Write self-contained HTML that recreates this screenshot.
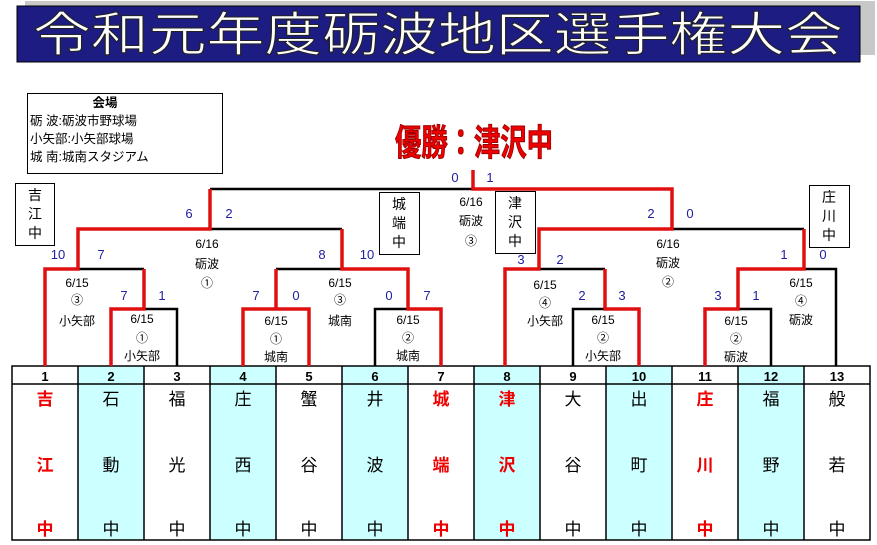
<!DOCTYPE html>
<html><head><meta charset="utf-8"><style>
body{margin:0;background:#fff;width:877px;height:545px;overflow:hidden}
svg{display:block}
text{font-family:"Liberation Sans","Noto Sans CJK JP",sans-serif}
</style></head><body>
<svg width="877" height="545" viewBox="0 0 877 545">
<rect x="25" y="1" width="850" height="54" fill="#c8c8c8"/>
<rect x="17" y="6" width="843" height="56" fill="#1c1c82" stroke="#000" stroke-width="1"/>
<text x="438" y="51" font-size="47" fill="#fff" stroke="#222" stroke-width="1" text-anchor="middle" textLength="810" lengthAdjust="spacingAndGlyphs" font-family="Noto Sans CJK JP,sans-serif">令和元年度砺波地区選手権大会</text>

<rect x="27.5" y="93.5" width="195" height="80" fill="#fff" stroke="#000"/>
<g font-size="12.5" fill="#000">
<text x="105" y="107" font-weight="bold" text-anchor="middle">会場</text>
<text x="30" y="125">砺 波:砺波市野球場</text>
<text x="30" y="143">小矢部:小矢部球場</text>
<text x="30" y="161">城 南:城南スタジアム</text>
</g>
<text x="474" y="155" font-size="36" font-weight="bold" fill="#e00" stroke="#900" stroke-width="1" text-anchor="middle" textLength="158" lengthAdjust="spacingAndGlyphs">優勝：津沢中</text>

<!-- table -->
<g fill="#ccffff">
<rect x="78" y="366" width="66" height="174"/><rect x="210" y="366" width="66" height="174"/>
<rect x="342" y="366" width="66" height="174"/><rect x="474" y="366" width="66" height="174"/>
<rect x="606" y="366" width="66" height="174"/><rect x="738" y="366" width="66" height="174"/>
</g>
<g stroke="#000" stroke-width="1.5" fill="none">
<rect x="12" y="366" width="858" height="174"/>
<line x1="12" y1="384" x2="870" y2="384"/>
<path d="M78 366V540M144 366V540M210 366V540M276 366V540M342 366V540M408 366V540M474 366V540M540 366V540M606 366V540M672 366V540M738 366V540M804 366V540"/>
</g>
<g font-size="13" font-weight="bold" text-anchor="middle">
<text x="45" y="381">1</text><text x="111" y="381">2</text><text x="177" y="381">3</text><text x="243" y="381">4</text><text x="309" y="381">5</text><text x="375" y="381">6</text><text x="441" y="381">7</text><text x="507" y="381">8</text><text x="573" y="381">9</text><text x="639" y="381">10</text><text x="705" y="381">11</text><text x="771" y="381">12</text><text x="837" y="381">13</text>
</g>
<g font-size="17" text-anchor="middle">
<g fill="#e00" font-weight="bold"><text x="45" y="405">吉</text><text x="45" y="471">江</text><text x="45" y="535">中</text></g>
<text x="111" y="405">石</text><text x="111" y="471">動</text><text x="111" y="535">中</text>
<text x="177" y="405">福</text><text x="177" y="471">光</text><text x="177" y="535">中</text>
<text x="243" y="405">庄</text><text x="243" y="471">西</text><text x="243" y="535">中</text>
<text x="309" y="405">蟹</text><text x="309" y="471">谷</text><text x="309" y="535">中</text>
<text x="375" y="405">井</text><text x="375" y="471">波</text><text x="375" y="535">中</text>
<g fill="#e00" font-weight="bold"><text x="441" y="405">城</text><text x="441" y="471">端</text><text x="441" y="535">中</text>
<text x="507" y="405">津</text><text x="507" y="471">沢</text><text x="507" y="535">中</text></g>
<text x="573" y="405">大</text><text x="573" y="471">谷</text><text x="573" y="535">中</text>
<text x="639" y="405">出</text><text x="639" y="471">町</text><text x="639" y="535">中</text>
<g fill="#e00" font-weight="bold"><text x="705" y="405">庄</text><text x="705" y="471">川</text><text x="705" y="535">中</text></g>
<text x="771" y="405">福</text><text x="771" y="471">野</text><text x="771" y="535">中</text>
<text x="837" y="405">般</text><text x="837" y="471">若</text><text x="837" y="535">中</text>
</g>

<!-- black bracket lines -->
<g stroke="#000" stroke-width="2.5" fill="none">
<path d="M144 309H177V366"/>
<path d="M78 269H144"/>
<path d="M276 269H342"/>
<path d="M375 366V309H408"/>
<path d="M210 229H342"/>
<path d="M210 189H473"/>
<path d="M573 366V309H605"/>
<path d="M539 269H605"/>
<path d="M672 229H804"/>
<path d="M738 309H771V366"/>
<path d="M804 269H836V366"/>
</g>
<!-- red -->
<g stroke="#e01010" stroke-width="3.5" fill="none" stroke-linejoin="miter">
<path d="M45 366V269H78V229H210V189"/>
<path d="M111 366V309H144V269"/>
<path d="M243 366V309H309V366M276 309V269"/>
<path d="M441 366V309H408V269H342V229"/>
<path d="M473 170V189H672V229H539V269H505V366"/>
<path d="M605 269V309H639V366"/>
<path d="M705 366V309H738V269H804V229"/>
</g>

<!-- team boxes -->
<g fill="#fff" stroke="#000" stroke-width="1">
<rect x="15.5" y="183.5" width="39" height="62"/><rect x="379.5" y="192.5" width="40" height="62"/>
<rect x="495.5" y="191.5" width="40" height="62"/><rect x="809.5" y="185.5" width="40" height="62"/>
</g>
<g font-size="14" text-anchor="middle">
<text x="35" y="200">吉</text><text x="35" y="219">江</text><text x="35" y="238">中</text>
<text x="399" y="209">城</text><text x="399" y="228">端</text><text x="399" y="247">中</text>
<text x="515" y="208">津</text><text x="515" y="227">沢</text><text x="515" y="246">中</text>
<text x="829" y="202">庄</text><text x="829" y="221">川</text><text x="829" y="240">中</text>
</g>

<!-- scores -->
<g font-size="13" fill="#2020a0" text-anchor="middle">
<text x="455" y="182">0</text><text x="490" y="182">1</text>
<text x="189" y="218">6</text><text x="229" y="218">2</text><text x="651" y="218">2</text><text x="690" y="218">0</text>
<text x="58" y="259">10</text><text x="101" y="259">7</text><text x="322" y="259">8</text><text x="367" y="259">10</text>
<text x="521" y="264">3</text><text x="560" y="264">2</text><text x="784" y="259">1</text><text x="823" y="259">0</text>
<text x="124" y="300">7</text><text x="162" y="300">1</text><text x="256" y="300">7</text><text x="296" y="300">0</text><text x="389" y="300">0</text><text x="427" y="300">7</text>
<text x="582" y="300">2</text><text x="622" y="300">3</text><text x="718" y="300">3</text><text x="756" y="300">1</text>
</g>
<!-- labels -->
<g font-size="12" text-anchor="middle">
<text x="207" y="248">6/16</text><text x="207" y="268">砺波</text><text x="207" y="287">①</text>
<text x="77" y="287">6/15</text><text x="77" y="304">③</text><text x="77" y="325">小矢部</text>
<text x="142" y="323">6/15</text><text x="142" y="342">①</text><text x="142" y="360">小矢部</text>
<text x="276" y="325">6/15</text><text x="276" y="343">①</text><text x="276" y="361">城南</text>
<text x="340" y="287">6/15</text><text x="340" y="304">③</text><text x="340" y="325">城南</text>
<text x="408" y="324">6/15</text><text x="408" y="342">②</text><text x="408" y="360">城南</text>
<text x="471" y="206">6/16</text><text x="471" y="225">砺波</text><text x="471" y="245">③</text>
<text x="668" y="248">6/16</text><text x="668" y="267">砺波</text><text x="668" y="286">②</text>
<text x="545" y="289">6/15</text><text x="545" y="307">④</text><text x="545" y="325">小矢部</text>
<text x="603" y="324">6/15</text><text x="603" y="342">②</text><text x="603" y="360">小矢部</text>
<text x="736" y="325">6/15</text><text x="736" y="343">②</text><text x="736" y="361">砺波</text>
<text x="801" y="287">6/15</text><text x="801" y="305">④</text><text x="801" y="324">砺波</text>
</g>
</svg>
</body></html>
